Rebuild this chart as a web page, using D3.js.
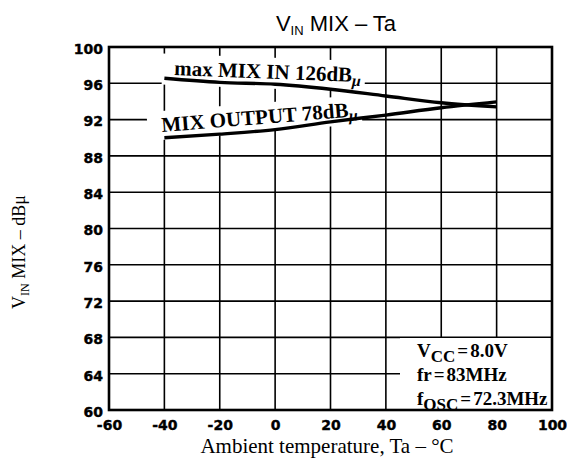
<!DOCTYPE html>
<html>
<head>
<meta charset="utf-8">
<script src="https://cdn.jsdelivr.net/npm/d3@7"></script>
<style>
  body { margin: 0; background: #fff; }
  svg { display: block; }
</style>
</head>
<body>
<div id="chart"></div>
<script>
// data
var temps = [-40, -20, 0, 20, 40, 60, 80];
var maxMixIn = [96.55, 96.1, 95.9, 95.35, 94.6, 93.85, 93.4];
var mixOutput = [90.0, 90.4, 90.9, 91.75, 92.5, 93.3, 93.95];
var xTicks = [-60, -40, -20, 0, 20, 40, 60, 80, 100];
var yTicks = [60, 64, 68, 72, 76, 80, 84, 88, 92, 96, 100];
var notes = [
    { main: "V", sub: "CC", rest: "8.0V" },
    { main: "fr", sub: "", rest: "83MHz" },
    { main: "f", sub: "OSC", rest: "72.3MHz" }
];

var W = 567, H = 462;
var margin = { top: 47, right: 15, bottom: 52, left: 109 };

var svg = d3.select("#chart")
    .append("svg")
        .attr("width", W)
        .attr("height", H);

var x = d3.scaleLinear().domain([-60, 100]).range([margin.left, W - margin.right]);
var y = d3.scaleLinear().domain([60, 100]).range([H - margin.bottom, margin.top]);

// grid
var grid = svg.append("g").attr("class", "grid");
grid.selectAll("line.v")
    .data(xTicks.slice(1, -1))
    .enter().append("line")
        .attr("x1", d => x(d)).attr("x2", d => x(d))
        .attr("y1", y(100)).attr("y2", y(60))
        .attr("stroke", "#000").attr("stroke-width", 1.6);
grid.selectAll("line.h")
    .data(yTicks.slice(1, -1))
    .enter().append("line")
        .attr("x1", x(-60)).attr("x2", x(100))
        .attr("y1", d => y(d)).attr("y2", d => y(d))
        .attr("stroke", "#000").attr("stroke-width", 1.6);

var bgLayer = svg.append("g");

// frame
svg.append("rect")
    .attr("x", x(-60)).attr("y", y(100))
    .attr("width", x(100) - x(-60)).attr("height", y(60) - y(100))
    .attr("fill", "none").attr("stroke", "#000").attr("stroke-width", 2.6);

// axes
var xAxis = svg.append("g")
    .attr("transform", "translate(0," + y(60) + ")")
    .call(d3.axisBottom(x).tickValues(xTicks).tickSize(0).tickPadding(10)
        .tickFormat(d => d < 0 ? "-" + Math.abs(d) : d));
var yAxis = svg.append("g")
    .attr("transform", "translate(" + x(-60) + ",0)")
    .call(d3.axisLeft(y).tickValues(yTicks).tickSize(0).tickPadding(6));
[xAxis, yAxis].forEach(function (a) {
    a.select(".domain").remove();
    a.selectAll("text")
        .attr("fill", "#000")
        .attr("stroke", "#000")
        .attr("stroke-width", 0.4)
        .style("font-family", "'DejaVu Sans', sans-serif")
        .style("font-weight", "bold")
        .style("font-size", "14px");
});
yAxis.selectAll("text").attr("dy", "0.45em");

// curves
var line = d3.line()
    .x(d => x(d[0]))
    .y(d => y(d[1]))
    .curve(d3.curveMonotoneX);

[maxMixIn, mixOutput].forEach(function (s) {
    svg.append("path")
        .datum(temps.map((t, i) => [t, s[i]]))
        .attr("d", line)
        .attr("fill", "none")
        .attr("stroke", "#000")
        .attr("stroke-width", 3.4);
});

// curve labels
var serif = "'Liberation Serif', 'Times New Roman', serif";
function curveLabel(txt, px, py, ang, pad) {
    var g = svg.append("g")
        .attr("transform", "translate(" + px + "," + py + ") rotate(" + ang + ")");
    var t = g.append("text")
        .style("font-family", serif)
        .style("font-weight", "bold")
        .style("font-size", "21px");
    t.append("tspan").text(txt);
    t.append("tspan").attr("dy", 4).style("font-style", "italic").style("font-size", "16px").text("\u03bc");
    var bb = t.node().getBBox();
    bgLayer.append("rect")
        .attr("transform", "translate(" + px + "," + py + ") rotate(" + ang + ")")
        .attr("x", bb.x - pad[0]).attr("y", bb.y - pad[1])
        .attr("width", bb.width + pad[0] + pad[2])
        .attr("height", bb.height + pad[1] + pad[3])
        .attr("fill", "#fff");
}
curveLabel("max MIX IN 126dB", 174, 75, 2.2, [12, 2, 4, 2]);
curveLabel("MIX OUTPUT 78dB", 162, 132, -4.6, [14, 2, 4, 0]);

// condition notes
bgLayer.append("rect")
    .attr("x", 400).attr("y", 338)
    .attr("width", x(100) - 400).attr("height", y(60) - 338)
    .attr("fill", "#fff");

var nt = svg.append("g")
    .style("font-family", serif)
    .style("font-weight", "bold")
    .style("font-size", "19px");
notes.forEach(function (n, i) {
    var t = nt.append("text").attr("x", 417).attr("y", 357 + i * 24);
    t.append("tspan").text(n.main);
    if (n.sub) {
        t.append("tspan").attr("dy", 5).style("font-size", "17px").text(n.sub);
        t.append("tspan").attr("dy", -5).attr("dx", 2).text("=");
    } else {
        t.append("tspan").attr("dx", 2).text("=");
    }
    t.append("tspan").attr("dx", 2).text(n.rest);
});

// title
var title = svg.append("text")
    .attr("x", 336).attr("y", 31)
    .attr("text-anchor", "middle")
    .style("font-family", "'Liberation Sans', Arial, sans-serif")
    .style("font-size", "22px");
title.append("tspan").text("V");
title.append("tspan").attr("dy", 4).style("font-size", "13px").text("IN");
title.append("tspan").attr("dy", -4).text(" MIX \u2013 Ta");

// axis titles
svg.append("text")
    .attr("x", 327).attr("y", 453)
    .attr("text-anchor", "middle")
    .style("font-family", serif)
    .style("font-size", "21px")
    .text("Ambient temperature, Ta \u2013 \u00b0C");

var yl = svg.append("text")
    .attr("transform", "translate(25,252) rotate(-90)")
    .attr("text-anchor", "middle")
    .style("font-family", serif)
    .style("font-size", "18px");
yl.append("tspan").text("V");
yl.append("tspan").attr("dy", 4).style("font-size", "12px").text("IN");
yl.append("tspan").attr("dy", -4).text(" MIX \u2013 dB\u03bc");
</script>
</body>
</html>
